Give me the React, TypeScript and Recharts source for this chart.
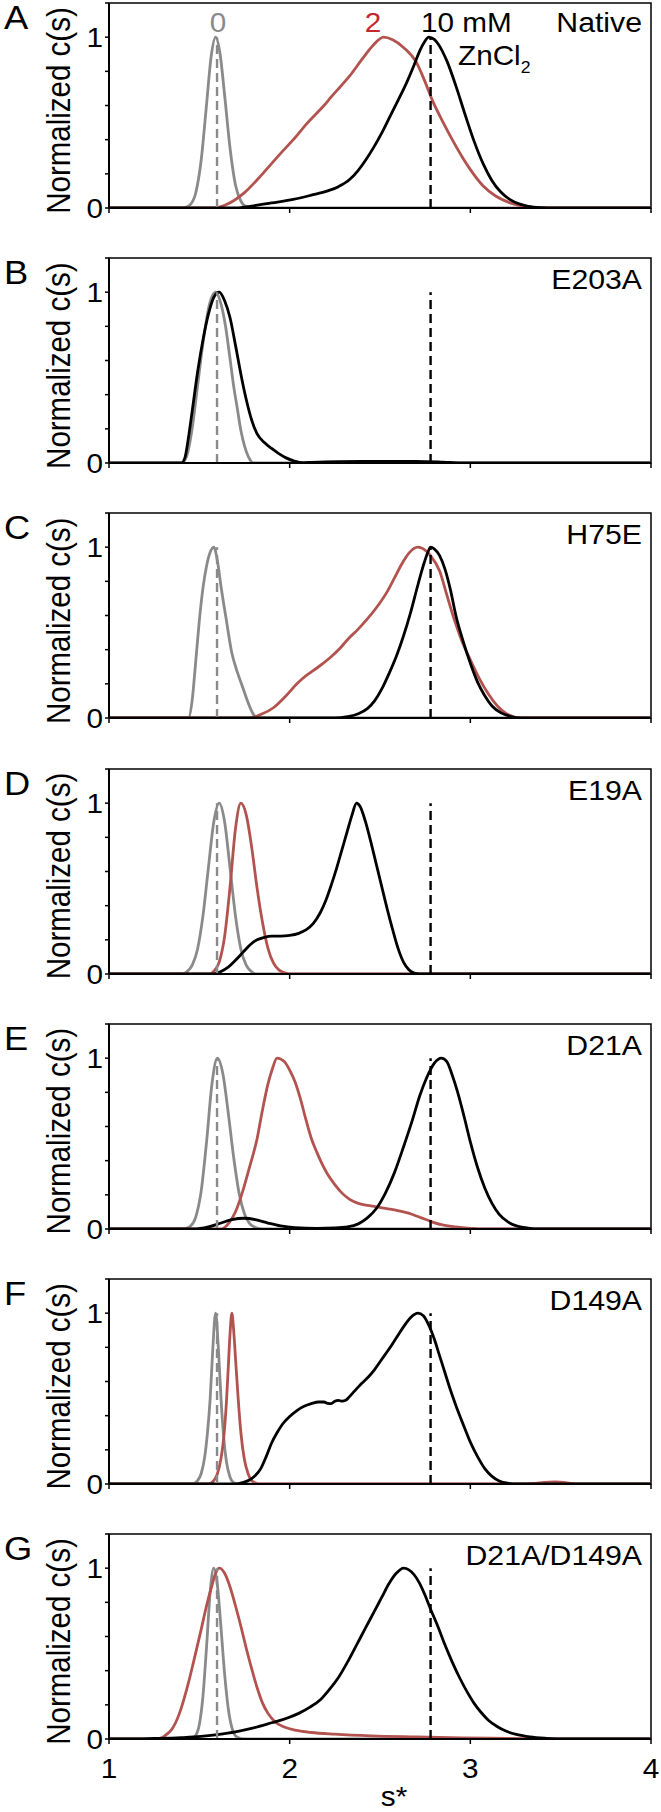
import React from 'react';
import { LineChart, Line, XAxis, YAxis, ReferenceLine, ReferenceArea } from 'recharts';

const FONT = "'Liberation Sans', Arial, Helvetica, sans-serif";
const GRAY = '#8a8a8a';
const RED = '#b3534f';
const LABEL_RED = '#c4282d';
const BLACK = '#000000';
const SX = 1.1; // horizontal stretch of the original figure's lettering

const xTicks = [1, 2, 3, 4];
const yTicks = [0, 0.2, 0.4, 0.6, 0.8, 1, 1.2];
const yLabelTicks = [0, 1];
const panelLetters = ['A', 'B', 'C', 'D', 'E', 'F', 'G'];
const panelTitles = ['Native', 'E203A', 'H75E', 'E19A', 'D21A', 'D149A', 'D21A/D149A'];
const legendLabels = ['0', '2', '10 mM'];
const grayRefX = 1.598;
const blackRefX = 2.78;

// Panel A – Native
const A_gray = [[1,0],[1.4,0],[1.42,0.003],[1.45,0.02],[1.48,0.088],[1.51,0.278],[1.54,0.607],[1.565,0.883],[1.59,1],[1.615,0.9],[1.64,0.66],[1.67,0.35],[1.7,0.135],[1.73,0.04],[1.76,0.008],[1.8,0],[4,0]];
const A_red = [[1,0],[1.58,0],[1.65,0.02],[1.75,0.09],[1.85,0.2],[1.95,0.32],[2.02,0.4],[2.1,0.5],[2.19,0.6],[2.23,0.65],[2.28,0.71],[2.33,0.77],[2.4,0.87],[2.46,0.95],[2.52,1],[2.57,0.985],[2.63,0.94],[2.7,0.855],[2.745,0.75],[2.79,0.63],[2.85,0.5],[2.9,0.4],[2.96,0.29],[3.01,0.21],[3.07,0.13],[3.14,0.07],[3.22,0.03],[3.33,0.005],[3.4,0],[4,0]];
const A_black = [[1,0],[1.7,0],[1.8,0.013],[1.9,0.03],[2.02,0.05],[2.12,0.075],[2.21,0.1],[2.27,0.125],[2.33,0.165],[2.375,0.215],[2.42,0.28],[2.465,0.355],[2.51,0.44],[2.555,0.535],[2.6,0.63],[2.65,0.74],[2.69,0.84],[2.72,0.92],[2.745,0.97],[2.77,1],[2.8,0.987],[2.82,0.963],[2.87,0.861],[2.92,0.715],[2.97,0.55],[3.02,0.393],[3.07,0.261],[3.12,0.16],[3.17,0.092],[3.22,0.049],[3.27,0.024],[3.32,0.01],[3.4,0.002],[3.45,0],[4,0]];

// Panel B – E203A
const B_gray = [[1,0],[1.4,0],[1.43,0.04],[1.46,0.2],[1.49,0.45],[1.52,0.7],[1.55,0.9],[1.59,1],[1.62,0.93],[1.645,0.8],[1.665,0.65],[1.69,0.45],[1.71,0.32],[1.73,0.19],[1.75,0.1],[1.77,0.04],[1.8,0],[4,0]];
const B_black = [[1,0],[1.4,0],[1.42,0.03],[1.44,0.15],[1.46,0.3],[1.49,0.53],[1.52,0.72],[1.55,0.87],[1.58,0.97],[1.61,1],[1.64,0.95],[1.67,0.85],[1.7,0.69],[1.73,0.52],[1.76,0.37],[1.79,0.25],[1.82,0.17],[1.86,0.12],[1.9,0.085],[1.94,0.055],[1.98,0.03],[2.03,0.01],[2.07,0.002],[2.12,0.004],[2.4,0.01],[2.7,0.01],[2.85,0.005],[2.95,0],[4,0]];

// Panel C – H75E
const C_gray = [[1,0],[1.44,0],[1.46,0.1],[1.48,0.33],[1.5,0.57],[1.52,0.76],[1.54,0.89],[1.56,0.97],[1.58,1],[1.6,0.92],[1.62,0.77],[1.65,0.57],[1.68,0.38],[1.71,0.27],[1.74,0.18],[1.77,0.09],[1.8,0.02],[1.82,0],[4,0]];
const C_red = [[1,0],[1.78,0],[1.84,0.02],[1.91,0.06],[1.98,0.13],[2.04,0.2],[2.07,0.23],[2.12,0.27],[2.16,0.3],[2.22,0.35],[2.28,0.41],[2.33,0.47],[2.37,0.51],[2.43,0.58],[2.49,0.66],[2.54,0.74],[2.58,0.82],[2.62,0.9],[2.66,0.965],[2.71,1],[2.74,0.99],[2.78,0.95],[2.83,0.86],[2.87,0.72],[2.91,0.58],[2.95,0.46],[3,0.34],[3.05,0.23],[3.1,0.14],[3.15,0.07],[3.2,0.025],[3.28,0],[4,0]];
const C_black = [[1,0],[2.25,0],[2.32,0.008],[2.38,0.025],[2.43,0.055],[2.47,0.1],[2.51,0.17],[2.55,0.26],[2.59,0.36],[2.63,0.48],[2.67,0.62],[2.71,0.78],[2.745,0.91],[2.765,0.97],[2.78,1],[2.8,0.99],[2.83,0.95],[2.86,0.87],[2.89,0.75],[2.92,0.6],[2.96,0.45],[3,0.32],[3.04,0.21],[3.08,0.13],[3.12,0.07],[3.17,0.03],[3.22,0.01],[3.28,0],[4,0]];

// Panel D – E19A
const D_gray = [[1,0],[1.41,0],[1.43,0.013],[1.46,0.05],[1.49,0.145],[1.52,0.34],[1.55,0.62],[1.58,0.89],[1.61,1],[1.64,0.89],[1.67,0.62],[1.7,0.34],[1.73,0.145],[1.76,0.05],[1.79,0.013],[1.82,0],[4,0]];
const D_red = [[1,0],[1.56,0],[1.58,0.016],[1.61,0.07],[1.64,0.22],[1.67,0.51],[1.7,0.85],[1.73,1],[1.76,0.93],[1.79,0.74],[1.82,0.5],[1.85,0.3],[1.88,0.15],[1.91,0.065],[1.94,0.024],[1.98,0.005],[2,0],[4,0]];
const D_black = [[1,0],[1.58,0],[1.62,0.015],[1.66,0.04],[1.7,0.08],[1.74,0.125],[1.78,0.17],[1.82,0.2],[1.86,0.215],[1.9,0.222],[1.95,0.222],[2,0.226],[2.05,0.238],[2.09,0.258],[2.13,0.295],[2.17,0.36],[2.2,0.43],[2.23,0.52],[2.26,0.62],[2.29,0.73],[2.32,0.84],[2.345,0.93],[2.37,1],[2.39,0.98],[2.42,0.89],[2.45,0.77],[2.48,0.64],[2.51,0.51],[2.54,0.38],[2.57,0.26],[2.6,0.15],[2.63,0.07],[2.66,0.025],[2.69,0.005],[2.72,0],[4,0]];

// Panel E – D21A
const E_gray = [[1,0],[1.4,0],[1.42,0.002],[1.45,0.016],[1.48,0.07],[1.51,0.22],[1.54,0.51],[1.57,0.85],[1.6,1],[1.63,0.91],[1.66,0.68],[1.69,0.42],[1.72,0.21],[1.75,0.088],[1.78,0.03],[1.82,0.005],[1.85,0],[4,0]];
const E_red = [[1,0],[1.62,0],[1.66,0.03],[1.7,0.1],[1.74,0.22],[1.78,0.37],[1.82,0.53],[1.85,0.7],[1.88,0.85],[1.905,0.94],[1.93,1],[1.97,0.98],[2,0.93],[2.03,0.86],[2.06,0.76],[2.09,0.64],[2.12,0.53],[2.15,0.45],[2.18,0.38],[2.21,0.32],[2.25,0.26],[2.29,0.21],[2.33,0.175],[2.38,0.15],[2.45,0.135],[2.52,0.122],[2.58,0.112],[2.63,0.1],[2.68,0.085],[2.73,0.065],[2.78,0.045],[2.84,0.025],[2.92,0.012],[3,0.004],[3.07,0],[4,0]];
const E_black = [[1,0],[1.47,0],[1.55,0.012],[1.62,0.035],[1.68,0.055],[1.75,0.063],[1.81,0.055],[1.88,0.035],[1.95,0.018],[2.03,0.008],[2.15,0.004],[2.25,0.006],[2.32,0.012],[2.38,0.03],[2.43,0.065],[2.48,0.12],[2.53,0.21],[2.58,0.33],[2.63,0.48],[2.68,0.64],[2.72,0.78],[2.76,0.89],[2.8,0.97],[2.84,1],[2.87,0.98],[2.9,0.9],[2.93,0.8],[2.965,0.66],[3,0.51],[3.04,0.36],[3.08,0.24],[3.12,0.15],[3.16,0.085],[3.21,0.04],[3.26,0.017],[3.32,0.005],[3.38,0],[4,0]];

// Panel F – D149A
const F_gray = [[1,0],[1.46,0],[1.49,0.02],[1.51,0.06],[1.53,0.16],[1.545,0.3],[1.56,0.5],[1.575,0.8],[1.59,1],[1.605,0.8],[1.62,0.5],[1.635,0.27],[1.65,0.13],[1.67,0.04],[1.69,0.008],[1.71,0],[4,0]];
const F_red = [[1,0],[1.55,0],[1.58,0.02],[1.6,0.06],[1.62,0.15],[1.635,0.27],[1.65,0.48],[1.66,0.68],[1.67,0.88],[1.68,1],[1.69,0.9],[1.7,0.74],[1.715,0.5],[1.73,0.3],[1.75,0.14],[1.77,0.06],[1.79,0.02],[1.82,0.003],[1.84,0],[3.3,0],[3.47,0.012],[3.6,0],[4,0]];
const F_black = [[1,0],[1.7,0],[1.74,0.008],[1.78,0.025],[1.81,0.05],[1.84,0.09],[1.87,0.16],[1.9,0.24],[1.93,0.3],[1.96,0.35],[2,0.395],[2.04,0.43],[2.08,0.455],[2.12,0.47],[2.16,0.48],[2.19,0.48],[2.21,0.472],[2.23,0.47],[2.25,0.485],[2.27,0.49],[2.29,0.485],[2.31,0.49],[2.33,0.51],[2.36,0.545],[2.39,0.58],[2.43,0.62],[2.47,0.67],[2.51,0.73],[2.55,0.79],[2.59,0.855],[2.63,0.92],[2.67,0.975],[2.71,1],[2.74,0.985],[2.77,0.93],[2.8,0.85],[2.83,0.75],[2.86,0.65],[2.89,0.55],[2.92,0.46],[2.96,0.35],[3,0.245],[3.04,0.16],[3.08,0.09],[3.12,0.045],[3.16,0.018],[3.21,0.004],[3.25,0],[4,0]];

// Panel G – D21A/D149A
const G_gray = [[1,0],[1.44,0],[1.46,0.004],[1.48,0.021],[1.5,0.085],[1.52,0.25],[1.54,0.54],[1.56,0.86],[1.58,1],[1.6,0.9],[1.62,0.65],[1.64,0.38],[1.66,0.18],[1.68,0.067],[1.71,0.01],[1.75,0],[4,0]];
const G_red = [[1,0],[1.27,0],[1.31,0.02],[1.35,0.06],[1.39,0.15],[1.43,0.29],[1.47,0.46],[1.51,0.64],[1.54,0.78],[1.57,0.9],[1.59,0.97],[1.61,1],[1.64,0.97],[1.67,0.89],[1.7,0.78],[1.73,0.66],[1.76,0.53],[1.79,0.41],[1.82,0.3],[1.85,0.21],[1.88,0.15],[1.92,0.1],[1.97,0.07],[2.04,0.05],[2.12,0.038],[2.25,0.028],[2.45,0.018],[2.7,0.012],[2.95,0.007],[3.2,0.003],[3.42,0],[4,0]];
const G_black = [[1,0],[1.1,0],[1.25,0.003],[1.4,0.008],[1.51,0.015],[1.6,0.026],[1.7,0.042],[1.8,0.065],[1.9,0.095],[1.98,0.12],[2.05,0.15],[2.11,0.185],[2.17,0.23],[2.22,0.29],[2.27,0.36],[2.32,0.45],[2.37,0.55],[2.42,0.65],[2.47,0.75],[2.51,0.83],[2.55,0.91],[2.59,0.97],[2.63,1],[2.66,0.99],[2.69,0.96],[2.72,0.91],[2.75,0.84],[2.78,0.76],[2.82,0.66],[2.86,0.55],[2.9,0.45],[2.94,0.36],[2.98,0.28],[3.02,0.21],[3.06,0.155],[3.1,0.11],[3.15,0.072],[3.2,0.045],[3.26,0.025],[3.33,0.012],[3.42,0.004],[3.52,0],[4,0]];

const grays = [A_gray, B_gray, C_gray, D_gray, E_gray, F_gray, G_gray];
const reds = [A_red, null, C_red, D_red, E_red, F_red, G_red];
const blacks = [A_black, B_black, C_black, D_black, E_black, F_black, G_black];

const toData = (pts: number[][] | null) => (pts ? pts.map(([x, y]) => ({ x, y })) : []);

const BASE0 = 208;
const STEP = 255.17;
const PLOT_H = 205;
const MT = 5;
const XH = 45;
const TICK_FS = 27;
const LW = 2.8;

const YTick = (props: any) => {
  const { x, y, payload } = props;
  const v = payload && payload.value;
  if (!yLabelTicks.includes(v)) return <g />;
  return (
    <g transform={`translate(${x},${y}) scale(${SX},1)`}>
      <text x={0} y={0} dy="0.355em" textAnchor="end" fontSize={TICK_FS} fontFamily={FONT} fill={BLACK}>{String(v)}</text>
    </g>
  );
};

const XTickShown = (props: any) => {
  const { x, y, payload } = props;
  const v = payload && payload.value;
  return (
    <g transform={`translate(${x},${y}) scale(${SX},1)`}>
      <text x={0} y={0} dy="0.71em" textAnchor="middle" fontSize={TICK_FS} fontFamily={FONT} fill={BLACK}>{String(v)}</text>
    </g>
  );
};
const XTickHidden = () => <g />;

function Panel({ i }: { i: number }) {
  const base = BASE0 + i * STEP;
  const top = base - PLOT_H - MT;
  const last = i === panelLetters.length - 1;
  const red = reds[i];
  return (
    <div style={{ position: 'absolute', left: 0, top, width: 661, height: MT + PLOT_H + XH }}>
      <LineChart width={661} height={MT + PLOT_H + XH} margin={{ top: MT, right: 10, bottom: 0, left: 69 }}>
        <XAxis
          type="number"
          dataKey="x"
          domain={[1, 4]}
          ticks={xTicks}
          allowDataOverflow
          height={XH}
          axisLine={{ stroke: BLACK, strokeWidth: 2 }}
          tickLine={{ stroke: BLACK, strokeWidth: 1.5 }}
          tickSize={5}
          tickMargin={15}
          tick={last ? XTickShown : XTickHidden}
        />
        <YAxis
          type="number"
          dataKey="y"
          domain={[0, 1.2]}
          ticks={yTicks}
          allowDataOverflow
          width={40}
          axisLine={{ stroke: BLACK, strokeWidth: 2 }}
          tickLine={{ stroke: BLACK, strokeWidth: 1.5 }}
          tickSize={4}
          tickMargin={2}
          tick={YTick}
        />
        <ReferenceArea x1={1} x2={4} y1={0} y2={1.2} fill="none" fillOpacity={0} stroke={BLACK} strokeWidth={1.5} />
        <Line data={toData(grays[i])} dataKey="y" type="monotone" stroke={GRAY} strokeWidth={LW} dot={false} isAnimationActive={false} />
        {red && (
          <Line data={toData(red)} dataKey="y" type="monotone" stroke={RED} strokeWidth={LW} dot={false} isAnimationActive={false} />
        )}
        <Line data={toData(blacks[i])} dataKey="y" type="monotone" stroke={BLACK} strokeWidth={LW} dot={false} isAnimationActive={false} />
        <ReferenceLine segment={[{ x: grayRefX, y: 0 }, { x: grayRefX, y: 1 }]} stroke={GRAY} strokeWidth={2.4} strokeDasharray="9 5" />
        <ReferenceLine segment={[{ x: blackRefX, y: 0 }, { x: blackRefX, y: 1 }]} stroke={BLACK} strokeWidth={2.4} strokeDasharray="9 5" />
      </LineChart>
    </div>
  );
}

function SText({ x, y, size, fill, anchor, children }: any) {
  return (
    <g transform={`translate(${x},${y}) scale(${SX},1)`}>
      <text x={0} y={0} fontSize={size} fill={fill} textAnchor={anchor || 'start'} fontFamily={FONT}>{children}</text>
    </g>
  );
}

function Overlay() {
  return (
    <svg width={661} height={1812} style={{ position: 'absolute', left: 0, top: 0, pointerEvents: 'none' }}>
      {panelLetters.map((L, i) => {
        const base = BASE0 + i * STEP;
        const pt = base - PLOT_H;
        return (
          <g key={L}>
            <SText x={4} y={pt + 26} size={33} fill={BLACK}>{L}</SText>
            <SText x={642} y={pt + (i === 0 ? 29 : 31)} size={27.5} fill={BLACK} anchor="end">{panelTitles[i]}</SText>
            <g transform={`translate(70, ${base - 97.5}) scale(${SX},1) rotate(-90)`}>
              <text x={0} y={0} fontSize={29.5} fill={BLACK} textAnchor="middle" fontFamily={FONT}>Normalized c(s)</text>
            </g>
          </g>
        );
      })}
      <SText x={218} y={32} size={27} fill={GRAY} anchor="middle">{legendLabels[0]}</SText>
      <SText x={373} y={32} size={27} fill={LABEL_RED} anchor="middle">{legendLabels[1]}</SText>
      <SText x={421} y={32} size={27} fill={BLACK}>{legendLabels[2]}</SText>
      <g transform={`translate(458,65) scale(${SX},1)`}>
        <text x={0} y={0} fontSize={27} fill={BLACK} fontFamily={FONT}>ZnCl<tspan fontSize={16} dy={8}>2</tspan></text>
      </g>
      <SText x={394} y={1806} size={27} fill={BLACK} anchor="middle">s*</SText>
    </svg>
  );
}

export default function App() {
  return (
    <div style={{ position: 'absolute', left: 0, top: 0, width: 661, height: 1812, background: '#fff', overflow: 'hidden' }}>
      {panelLetters.map((_, i) => (
        <Panel key={i} i={i} />
      ))}
      <Overlay />
    </div>
  );
}
